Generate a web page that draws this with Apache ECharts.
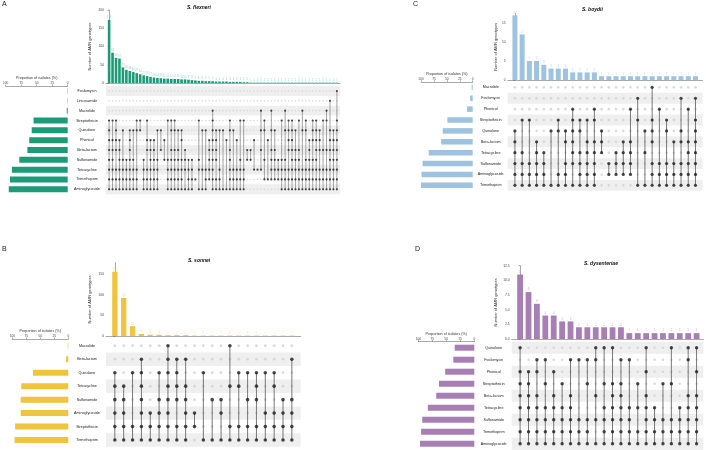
<!DOCTYPE html>
<html><head><meta charset="utf-8">
<script src="https://cdn.jsdelivr.net/npm/echarts@6/dist/echarts.min.js"></script>
<style>html,body{margin:0;padding:0;background:#fff}#c{width:706px;height:450px}</style>
</head><body><div id="c"></div>
<script>
// ---------------- DATA ----------------
// Panel A: S. flexneri
const flexneriRows = ['Fosfomycin','Lincosamide','Macrolide','Streptothricin','Quinolone','Phenicol','Beta-lactam','Sulfonamide','Tetracycline','Trimethoprim','Aminoglycoside'];
const flexneriPct = [0.4, 0.4, 1.5, 55, 58, 62, 65, 78, 90, 93, 95];
const flexneriCounts = [173,83,69,67,43,36,33,30,27,24,21,19,17,15,14,13,12,12,11,11,11,10,10,9,8,7,6,6,5,5,5,4,4,4,4,3,3,3,3,2,2,
  1,1,1,1,1,1,1,1,1,1,1,1,1,1,1,1,1,1,1,1,1,1,1,1,1,1];
const flexneriMembers = [
  [66],
  [64],
  [30,44,47,51,56,63],
  [0,1,2,8,9,11,17,18,19,26,30,35,38,39,45,50,52,53,55,57,59,60,62,63,66],
  [0,2,4,6,7,8,9,14,15,18,19,20,21,27,28,30,31,32,33,35,36,44,45,47,48,51,52,53,54,56,57,59,60,61,64,65,66],
  [0,1,2,3,6,11,12,13,16,21,29,30,31,34,37,42,46,52,53,58,59,60,61,64,65,66],
  [0,1,2,3,6,11,12,13,15,18,19,20,22,29,30,31,35,40,41,44,47,48,52,53,54,55,58,60,61,62,63,64,65,66],
  [0,1,3,4,5,6,7,10,12,13,14,16,17,18,19,20,21,22,23,24,26,29,30,31,35,38,40,41,45,47,48,49,50,51,53,54,55,57,58,59,60,64,65,66],
  [0,1,2,3,4,5,6,7,8,10,11,12,13,14,17,18,19,20,21,22,23,24,26,27,28,29,30,32,35,36,37,38,39,42,43,44,47,48,49,50,51,52,53,54,55,56,57,58,59,60,61,62,63,64,65,66],
  [0,1,2,3,4,5,6,7,8,10,11,12,13,14,17,18,19,20,21,23,24,25,28,29,30,31,32,35,36,37,38,39,45,46,47,48,49,50,51,52,53,54,55,56,57,58,59,60,61,62,63,64,65,66],
  [0,1,2,3,4,5,6,7,8,10,11,12,13,14,17,18,19,20,21,22,23,24,26,27,28,30,31,32,33,34,35,36,37,38,39,50,51,52,53,54,55,56,57,58,59,60,61,62,63,64,65,66]
];

// Panel B: S. sonnei
const sonneiRows = ['Macrolide','Beta-lactam','Quinolone','Tetracycline','Sulfonamide','Aminoglycoside','Streptothricin','Trimethoprim'];
const sonneiPct = [1, 4, 63, 84, 85, 85, 95, 96];
const sonneiCounts = [157,93,24,5,3,3,2,2,2,1,1,1,1,1,1,1,1,1,1,1,1];
const sonneiMembers = [
  [6,13],
  [3,6,7,8,20],
  [0,2,3,5,6,7,10,14,15,16,17,18],
  [0,1,3,6,7,8,13,14,16,18],
  [0,1,3,5,6,7,8,11,12,15,16,19,20],
  [0,1,3,4,5,6,8,9,12,17,18,19,20],
  [0,1,2,3,4,5,6,7,8,9,13,14,15,16,17,18,19,20],
  [0,1,2,3,4,5,6,7,8,10,11,12,13,14,15,16,17,18,19,20]
];

// Panel C: S. boydii
const boydiiRows = ['Macrolide','Fosfomycin','Phenicol','Streptothricin','Quinolone','Beta-lactam','Tetracycline','Sulfonamide','Aminoglycoside','Trimethoprim'];
const boydiiPct = [2, 5, 11, 49, 58, 61, 85, 97, 99, 100];
const boydiiCounts = [17,12,5,5,4,3,3,3,2,2,2,2,1,1,1,1,1,1,1,1,1,1,1,1,1,1];
const boydiiMembers = [
  [19],
  [17,23,25],
  [8,11,16,20,24],
  [1,2,6,8,9,10,11,17,19,21,25],
  [0,5,6,7,8,9,12,18,19,21,23,25],
  [0,3,7,8,10,11,12,15,16,19,22,23,24,25],
  [0,1,3,4,8,9,10,11,12,14,15,16,18,24,25],
  [0,1,2,3,4,7,8,9,10,11,13,14,15,16,19,20,21,22,23,24,25],
  [0,1,2,3,4,6,7,9,10,11,13,14,15,16,19,20,21,22,23,24,25],
  [0,1,2,3,4,5,6,7,8,9,10,11,17,18,19,20,21,22,23,24,25]
];

// Panel D: S. dysenteriae
const dysRows = ['Quinolone','Fosfomycin','Phenicol','Streptothricin','Beta-lactam','Tetracycline','Sulfonamide','Trimethoprim','Aminoglycoside'];
const dysPct = [35, 37.5, 52, 63, 68, 83, 93, 95, 97];
const dysCounts = [11,8,6,4,4,3,3,2,2,2,2,2,2,1,1,1,1,1,1,1,1,1];
const dysMembers = [
  [0,9,10,11,15,18,20,21],
  [2,3,6,7,8,9,12,13,20],
  [0,1,2,4,15,21],
  [0,1,3,5,8,10,11,12,14,17,18],
  [0,1,2,4,6,9,11,12,15,20,21],
  [0,1,2,3,4,5,6,10,11,12,13,14,15,16,19,20,21],
  [0,1,2,3,4,5,6,7,8,9,10,11,12,13,15,16,17,18,19,20,21],
  [0,1,2,3,4,5,6,7,8,10,11,12,13,14,15,16,17,18,19,20,21],
  [0,1,2,3,4,5,6,7,8,9,10,11,12,13,14,15,16,17,18,19,20,21]
];

// ---------------- BUILD ----------------
const FONT = "'Liberation Sans', Arial, sans-serif";
const grids = [], xAxis = [], yAxis = [], series = [], graphic = [];
const AX = {color:'#555', width:0.5};

function build(p) {
  const g = grids.length;
  const n = p.counts.length, R = p.rows.length;
  grids.push({left:p.x0, top:p.barTop, width:p.w, height:p.barH});
  grids.push({left:p.x0, top:p.mTop, width:p.w, height:p.mH});
  grids.push({left:p.sL, top:p.mTop, width:p.sW, height:p.mH});
  const xr = () => ({type:'value', min:-p.padL, max:n-1+p.padR, axisTick:{show:false}, axisLabel:{show:false}, splitLine:{show:false}});
  xAxis.push(Object.assign(xr(), {gridIndex:g, axisLine:{show:true, lineStyle:AX}}));
  const yl = {fontSize:3.3, color:'#444', margin:2, showMaxLabel:p.showMax, fontFamily:FONT};
  if (p.fmt) yl.formatter = p.fmt;
  yAxis.push({gridIndex:g, type:'value', min:0, max:p.yMax, interval:p.yInt,
    name:'Number of AMR genotypes', nameLocation:'middle', nameGap:p.nameGap,
    nameTextStyle:{fontSize:4, color:'#333', fontFamily:FONT},
    axisLine:{show:true, lineStyle:AX}, axisTick:{show:true, length:1.5, lineStyle:AX},
    axisLabel:yl, splitLine:{show:false}});
  xAxis.push(Object.assign(xr(), {gridIndex:g+1, axisLine:{show:false}}));
  yAxis.push({gridIndex:g+1, type:'category', data:p.rows, inverse:true,
    axisLine:{show:false}, axisTick:{show:false},
    axisLabel:{fontSize:3.7, color:'#222', align:'center', margin:p.labMargin, fontFamily:FONT}, splitLine:{show:false}});
  xAxis.push({gridIndex:g+2, type:'value', min:0, max:100, interval:25, inverse:true, position:'top',
    name:'Proportion of isolates (%)', nameLocation:'middle', nameGap:p.sNameGap,
    nameTextStyle:{fontSize:3.7, color:'#333', fontFamily:FONT},
    axisLine:{show:true, lineStyle:AX}, axisTick:{show:true, length:1.5, lineStyle:AX},
    axisLabel:{fontSize:3.2, color:'#444', margin:1.5, fontFamily:FONT}, splitLine:{show:false}});
  yAxis.push({gridIndex:g+2, type:'category', data:p.rows, inverse:true, show:false});

  series.push({type:'bar', xAxisIndex:g, yAxisIndex:g, data:p.counts.map((v,i)=>[i,v]),
    barWidth:p.barW, itemStyle:{color:p.color}, silent:true,
    label:{show:true, position:'top', distance:1, fontSize:p.lblSize, color:p.lblColor, fontFamily:FONT, formatter:q=>q.value[1]}});

  const shaded = [];
  for (let r = 0; r < R; r++) if ((R-1-r) % 2 === 0) shaded.push([0, r]);
  series.push({type:'custom', xAxisIndex:g+1, yAxisIndex:g+1, data:shaded, silent:true, z:1,
    renderItem:(params, api) => {
      const cs = params.coordSys;
      const y = api.coord([0, api.value(1)])[1];
      const h = api.size([0, 1])[1];
      return {type:'rect', shape:{x:cs.x, y:y-h/2, width:cs.width, height:h}, style:{fill:'#efefef'}};
    }});

  const empty = [], filled = [], lines = [];
  for (let c = 0; c < n; c++) {
    const inRows = [];
    for (let r = 0; r < R; r++) {
      if (p.members[r].includes(c)) { filled.push([c, r]); inRows.push(r); }
      else empty.push([c, r]);
    }
    if (inRows.length >= 2) lines.push([c, Math.min(...inRows), Math.max(...inRows)]);
  }
  series.push({type:'scatter', xAxisIndex:g+1, yAxisIndex:g+1, data:empty, symbolSize:p.eSize,
    itemStyle:{color:'#d2d2d2'}, silent:true, z:2});
  series.push({type:'custom', xAxisIndex:g+1, yAxisIndex:g+1, data:lines, silent:true, z:3,
    encode:{x:0, y:[1,2]},
    renderItem:(params, api) => {
      const a = api.coord([api.value(0), api.value(1)]);
      const b = api.coord([api.value(0), api.value(2)]);
      return {type:'line', shape:{x1:a[0], y1:a[1], x2:b[0], y2:b[1]}, style:{stroke:'#6a6a6a', lineWidth:p.lineW}};
    }});
  series.push({type:'scatter', xAxisIndex:g+1, yAxisIndex:g+1, data:filled, symbolSize:p.fSize,
    itemStyle:{color:'#1c1c1c'}, silent:true, z:4});

  series.push({type:'bar', xAxisIndex:g+2, yAxisIndex:g+2, data:p.pct, barWidth:p.sBarW,
    itemStyle:{color:p.color}, silent:true});

  graphic.push({type:'text', left:p.titleX, top:p.titleY, style:{text:p.title, fontSize:5, fontWeight:'bold', fontStyle:'italic', fill:'#111', font:'italic bold 5px ' + FONT, textAlign:'center'}});
  graphic.push({type:'text', left:p.letX, top:p.letY, style:{text:p.letter, fill:'#222', font:'7px ' + FONT}});
}

build({rows:flexneriRows, pct:flexneriPct, counts:flexneriCounts, members:flexneriMembers,
  x0:106, w:234, padL:0.9, padR:0.9, barTop:10, barH:73, yMax:200, yInt:50, showMax:true,
  mTop:86.1, mH:108.1, sL:1.7, sW:66, labMargin:19, nameGap:14, sNameGap:6,
  barW:2.6, color:'#1d9a78', lblColor:'#93cfbd', lblSize:2.6, eSize:1.6, fSize:2.2, lineW:0.6, sBarW:6,
  title:'S. flexneri', titleX:187, titleY:5, letter:'A', letX:2, letY:1});

build({rows:sonneiRows, pct:sonneiPct, counts:sonneiCounts, members:sonneiMembers,
  x0:106, w:194.7, padL:1, padR:1, barTop:262.7, barH:73.3, yMax:179, yInt:50, showMax:false,
  mTop:339, mH:107.8, sL:12.3, sW:56, labMargin:19, nameGap:14, sNameGap:6,
  barW:5.3, color:'#f0c43c', lblColor:'#f3dc95', lblSize:3, eSize:2.8, fSize:3.6, lineW:0.9, sBarW:6,
  title:'S. sonnei', titleX:188, titleY:258, letter:'B', letX:2, letY:246});

build({rows:boydiiRows, pct:boydiiPct, counts:boydiiCounts, members:boydiiMembers,
  x0:507.7, w:195, padL:1, padR:1, barTop:13.5, barH:66.5, yMax:17.5, yInt:5, showMax:false,
  mTop:81.9, mH:108.9, sL:421, sW:51.7, labMargin:17, nameGap:9, sNameGap:6,
  barW:5, color:'#9dc3e0', lblColor:'#bcd6ea', lblSize:3, eSize:2.6, fSize:3.2, lineW:0.9, sBarW:5.5,
  title:'S. boydii', titleX:582, titleY:7, letter:'C', letX:413, letY:1});

build({rows:dysRows, pct:dysPct, counts:dysCounts, members:dysMembers,
  x0:511.7, w:191.6, padL:1, padR:0.8, barTop:265.7, barH:73.3, yMax:12.5, yInt:2.5, showMax:true,
  fmt:v=>v.toFixed(1),
  mTop:341.7, mH:108, sL:418.3, sW:56, labMargin:18, nameGap:14, sNameGap:6,
  barW:5.8, color:'#a87fb5', lblColor:'#cbb0d5', lblSize:3, eSize:2.6, fSize:3.4, lineW:0.9, sBarW:6,
  title:'S. dysenteriae', titleX:584, titleY:261, letter:'D', letX:415, letY:246});

const chart = echarts.init(document.getElementById('c'), null, {renderer:'canvas'});
chart.setOption({
  animation:false,
  backgroundColor:'#ffffff',
  textStyle:{fontFamily:FONT},
  grid:grids, xAxis:xAxis, yAxis:yAxis, series:series, graphic:graphic
});
</script>
</body></html>
